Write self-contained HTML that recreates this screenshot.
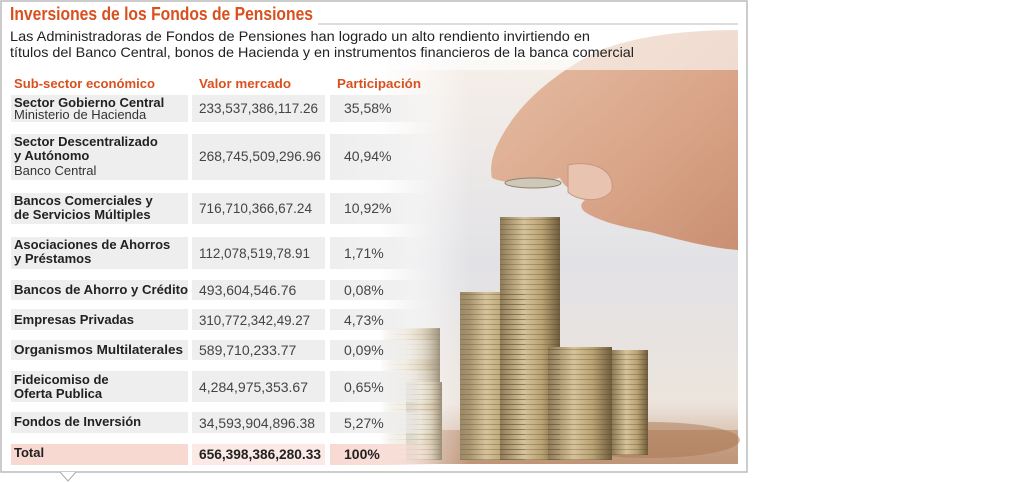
<!DOCTYPE html>
<html><head><meta charset="utf-8"><style>
html,body{margin:0;padding:0;background:#fff;width:1024px;height:483px;overflow:hidden}
svg{display:block}
.t{font-family:"Liberation Sans",sans-serif}
</style></head><body>
<svg width="1024" height="483" viewBox="0 0 1024 483" xmlns="http://www.w3.org/2000/svg">
<defs>
<linearGradient id="bg" x1="0" y1="0" x2="0" y2="1">
<stop offset="0" stop-color="#f6efe9"/><stop offset="0.5" stop-color="#e2e2e6"/><stop offset="0.85" stop-color="#ece4dc"/><stop offset="1" stop-color="#c9a58c"/></linearGradient>
<linearGradient id="fade" x1="0" y1="0" x2="1" y2="0">
<stop offset="0" stop-color="#fff" stop-opacity="1"/><stop offset="1" stop-color="#fff" stop-opacity="0"/></linearGradient>
<linearGradient id="coin" x1="0" y1="0" x2="1" y2="0">
<stop offset="0" stop-color="#8e7a55"/><stop offset="0.4" stop-color="#d6c39a"/><stop offset="0.7" stop-color="#b9a273"/><stop offset="1" stop-color="#6f5c3c"/></linearGradient>
<pattern id="rid" width="10" height="5" patternUnits="userSpaceOnUse"><rect y="4" width="10" height="1" fill="#4f4028" opacity="0.3"/></pattern>
<linearGradient id="skin" x1="0" y1="0" x2="1" y2="1">
<stop offset="0" stop-color="#e7c0a6"/><stop offset="0.6" stop-color="#d9a488"/><stop offset="1" stop-color="#c98f72"/></linearGradient>
<linearGradient id="c3" x1="0" y1="0" x2="1" y2="0">
<stop offset="0" stop-color="#eeeeee"/><stop offset="0.6" stop-color="#eeeeee" stop-opacity="0.8"/><stop offset="1" stop-color="#eeeeee" stop-opacity="0"/></linearGradient>
<linearGradient id="c3t" x1="0" y1="0" x2="1" y2="0">
<stop offset="0" stop-color="#f8d9d2"/><stop offset="0.6" stop-color="#f8d9d2" stop-opacity="0.8"/><stop offset="1" stop-color="#f8d9d2" stop-opacity="0"/></linearGradient>
</defs>
<rect x="1" y="1" width="746" height="471" fill="#fff" stroke="#bbb" stroke-width="1.5"/>
<path d="M60 472 L68 481 L76 472" fill="#fff" stroke="#aaa" stroke-width="1"/>
<rect x="380" y="60" width="358" height="404" fill="url(#bg)"/>
<rect x="380" y="430" width="358" height="34" fill="#b98a6a" opacity="0.6"/>
<ellipse cx="650" cy="440" rx="90" ry="18" fill="#a9764f" opacity="0.5"/>
<path d="M738 30 L738 250 C710 248 680 240 650 232 C630 228 610 225 590 215 C575 208 580 198 600 195 C580 195 565 190 560 178 C540 182 510 186 492 178 C488 160 498 140 512 120 C530 95 560 70 600 50 C640 35 690 30 738 30 Z" fill="url(#skin)"/>
<path d="M568 165 C590 160 615 168 612 190 C605 203 578 202 568 192 Z" fill="#e8c3b0" stroke="#c99680" stroke-width="1"/>
<ellipse cx="533" cy="183" rx="28" ry="5" fill="#cfc7b8" stroke="#8d8470"/>
<g fill="url(#coin)">
<rect x="380" y="328" width="60" height="132"/>
<rect x="460" y="292" width="65" height="168"/>
<rect x="500" y="217" width="60" height="243"/>
<rect x="548" y="347" width="64" height="113"/>
<rect x="612" y="350" width="36" height="105"/>
<rect x="406" y="382" width="36" height="78"/>
</g>
<g fill="url(#rid)">
<rect x="380" y="328" width="60" height="132"/>
<rect x="460" y="292" width="65" height="168"/>
<rect x="500" y="217" width="60" height="243"/>
<rect x="548" y="347" width="64" height="113"/>
<rect x="612" y="350" width="36" height="105"/>
<rect x="406" y="382" width="36" height="78"/>
</g>
<rect x="380" y="30" width="90" height="434" fill="url(#fade)"/>
<rect x="380" y="30" width="358" height="40" fill="#fff" opacity="0.6"/>
<text class="t" x="10" y="20" font-size="18" font-weight="bold" fill="#d9501e" textLength="303" lengthAdjust="spacingAndGlyphs">Inversiones de los Fondos de Pensiones</text>
<line x1="318" y1="24" x2="738" y2="24" stroke="#bbb" stroke-width="1"/>
<text class="t" x="10" y="41" font-size="14" fill="#222" textLength="580" lengthAdjust="spacingAndGlyphs">Las Administradoras de Fondos de Pensiones han logrado un alto rendiento invirtiendo en</text>
<text class="t" x="10" y="57" font-size="14" fill="#222" textLength="624" lengthAdjust="spacingAndGlyphs">títulos del Banco Central, bonos de Hacienda y en instrumentos financieros de la banca comercial</text>
<g class="t" font-size="13" font-weight="bold" fill="#d9501e">
<text x="14" y="88" textLength="141" lengthAdjust="spacingAndGlyphs">Sub-sector económico</text>
<text x="199" y="88" textLength="92" lengthAdjust="spacingAndGlyphs">Valor mercado</text>
<text x="337" y="88" textLength="84" lengthAdjust="spacingAndGlyphs">Participación</text>
</g>
<g fill="#eeeeee">
<rect x="11" y="95" width="177" height="27"/><rect x="192" y="95" width="133" height="27"/>
<rect x="11" y="134" width="177" height="46"/><rect x="192" y="134" width="133" height="46"/>
<rect x="11" y="193" width="177" height="31"/><rect x="192" y="193" width="133" height="31"/>
<rect x="11" y="237" width="177" height="32"/><rect x="192" y="237" width="133" height="32"/>
<rect x="11" y="280" width="177" height="20"/><rect x="192" y="280" width="133" height="20"/>
<rect x="11" y="309" width="177" height="21"/><rect x="192" y="309" width="133" height="21"/>
<rect x="11" y="340" width="177" height="20"/><rect x="192" y="340" width="133" height="20"/>
<rect x="11" y="371" width="177" height="31"/><rect x="192" y="371" width="133" height="31"/>
<rect x="11" y="412" width="177" height="21"/><rect x="192" y="412" width="133" height="21"/>
</g>
<g fill="url(#c3)">
<rect x="330" y="95" width="110" height="27"/><rect x="330" y="134" width="110" height="46"/>
<rect x="330" y="193" width="110" height="31"/><rect x="330" y="237" width="110" height="32"/>
<rect x="330" y="280" width="110" height="20"/><rect x="330" y="309" width="110" height="21"/>
<rect x="330" y="340" width="110" height="20"/><rect x="330" y="371" width="110" height="31"/>
<rect x="330" y="412" width="110" height="21"/>
</g>
<rect x="11" y="444" width="177" height="21" fill="#f8d9d2"/><rect x="192" y="444" width="133" height="21" fill="#fbe9e5"/><rect x="330" y="444" width="110" height="21" fill="url(#c3t)"/>
<g class="t" font-size="13" font-weight="bold" fill="#222">
<text x="14" y="107">Sector Gobierno Central</text>
<text x="14" y="146">Sector Descentralizado</text>
<text x="14" y="160">y Autónomo</text>
<text x="14" y="205">Bancos Comerciales y</text>
<text x="14" y="219">de Servicios Múltiples</text>
<text x="14" y="249">Asociaciones de Ahorros</text>
<text x="14" y="263">y Préstamos</text>
<text x="14" y="294" textLength="174" lengthAdjust="spacingAndGlyphs">Bancos de Ahorro y Crédito</text>
<text x="14" y="324">Empresas Privadas</text>
<text x="14" y="354" textLength="169" lengthAdjust="spacingAndGlyphs">Organismos Multilaterales</text>
<text x="14" y="384">Fideicomiso de</text>
<text x="14" y="398">Oferta Publica</text>
<text x="14" y="426">Fondos de Inversión</text>
<text x="14" y="457">Total</text>
</g>
<g class="t" font-size="13" fill="#333">
<text x="14" y="119">Ministerio de Hacienda</text>
<text x="14" y="175">Banco Central</text>
</g>
<g class="t" font-size="14" fill="#444">
<text x="199" y="113" textLength="119" lengthAdjust="spacingAndGlyphs">233,537,386,117.26</text><text x="344" y="113">35,58%</text>
<text x="199" y="161" textLength="122" lengthAdjust="spacingAndGlyphs">268,745,509,296.96</text><text x="344" y="161">40,94%</text>
<text x="199" y="213" textLength="113" lengthAdjust="spacingAndGlyphs">716,710,366,67.24</text><text x="344" y="213">10,92%</text>
<text x="199" y="258" textLength="111" lengthAdjust="spacingAndGlyphs">112,078,519,78.91</text><text x="344" y="258">1,71%</text>
<text x="199" y="295">493,604,546.76</text><text x="344" y="295">0,08%</text>
<text x="199" y="325" textLength="111" lengthAdjust="spacingAndGlyphs">310,772,342,49.27</text><text x="344" y="325">4,73%</text>
<text x="199" y="355">589,710,233.77</text><text x="344" y="355">0,09%</text>
<text x="199" y="392">4,284,975,353.67</text><text x="344" y="392">0,65%</text>
<text x="199" y="428" textLength="116" lengthAdjust="spacingAndGlyphs">34,593,904,896.38</text><text x="344" y="428">5,27%</text>
</g>
<g class="t" font-size="14" font-weight="bold" fill="#222">
<text x="199" y="459" textLength="122" lengthAdjust="spacingAndGlyphs">656,398,386,280.33</text><text x="344" y="459">100%</text>
</g>
</svg>
</body></html>
